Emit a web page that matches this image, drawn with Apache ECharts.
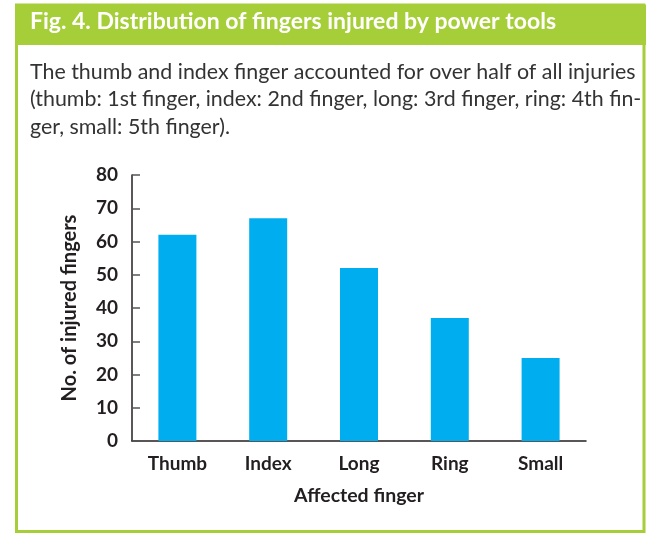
<!DOCTYPE html>
<html>
<head>
<meta charset="utf-8">
<script src="https://cdn.jsdelivr.net/npm/echarts@6/dist/echarts.min.js"></script>
<style>
html,body{margin:0;padding:0;background:#fff;}
#chart{width:650px;height:534px;}
</style>
</head>
<body>
<div id="chart"></div>
<script>
const categories = ["Thumb", "Index", "Long", "Ring", "Small"];
const injuredFingers = [62, 67, 52, 37, 25];
const yTicks = [0, 10, 20, 30, 40, 50, 60, 70, 80];
const titleText = "Fig. 4. Distribution of fingers injured by power tools";
const captionLines = [
  "The thumb and index finger accounted for over half of all injuries",
  "(thumb: 1st finger, index: 2nd finger, long: 3rd finger, ring: 4th fin-",
  "ger, small: 5th finger)."
];
const xAxisName = "Affected finger";
const yAxisName = "No. of injured fingers";

const FONT = 'Lato, sans-serif';
const GREEN = '#A6CE39';
const chart = echarts.init(document.getElementById('chart'), null, {renderer: 'canvas'});
chart.setOption({
  backgroundColor: '#fff',
  animation: false,
  graphic: [
    {type: 'rect', shape: {x: 16.5, y: 5, width: 627.5, height: 526.5}, style: {fill: 'none', stroke: GREEN, lineWidth: 3}},
    {type: 'rect', shape: {x: 15, y: 5, width: 631, height: 40}, style: {fill: GREEN}},
    {type: 'text', left: 30, top: 10, style: {text: titleText, fill: '#fff', font: 'bold 23px ' + FONT}},
    {type: 'text', left: 30, top: 58, style: {text: captionLines.join('\n'), fill: '#333', font: '21.4px ' + FONT, lineHeight: 27.5}}
  ],
  grid: {left: 132, right: 64, top: 175, bottom: 93, containLabel: false},
  xAxis: {
    type: 'category',
    data: categories,
    axisLine: {lineStyle: {color: '#231f20', width: 1.5}},
    axisTick: {show: false},
    axisLabel: {color: '#231f20', fontSize: 19, fontWeight: 'bold', fontFamily: FONT, margin: 13},
    name: xAxisName,
    nameLocation: 'middle',
    nameGap: 45,
    nameTextStyle: {color: '#231f20', fontSize: 19.5, fontWeight: 'bold', fontFamily: FONT}
  },
  yAxis: {
    type: 'value',
    min: yTicks[0],
    max: yTicks[yTicks.length - 1],
    interval: yTicks[1] - yTicks[0],
    axisLine: {show: true, lineStyle: {color: '#231f20', width: 1.5}},
    axisTick: {show: true, inside: true, length: 8, lineStyle: {color: '#555', width: 1.5}},
    splitLine: {show: false},
    axisLabel: {color: '#231f20', fontSize: 19, fontWeight: 'bold', fontFamily: FONT, margin: 14},
    name: yAxisName,
    nameLocation: 'middle',
    nameGap: 52,
    nameRotate: 90,
    nameTextStyle: {color: '#231f20', fontSize: 20, fontWeight: 'bold', fontFamily: FONT}
  },
  series: [{
    type: 'bar',
    data: injuredFingers,
    barWidth: 38,
    itemStyle: {color: '#00AEEF'}
  }]
});
</script>
</body>
</html>
